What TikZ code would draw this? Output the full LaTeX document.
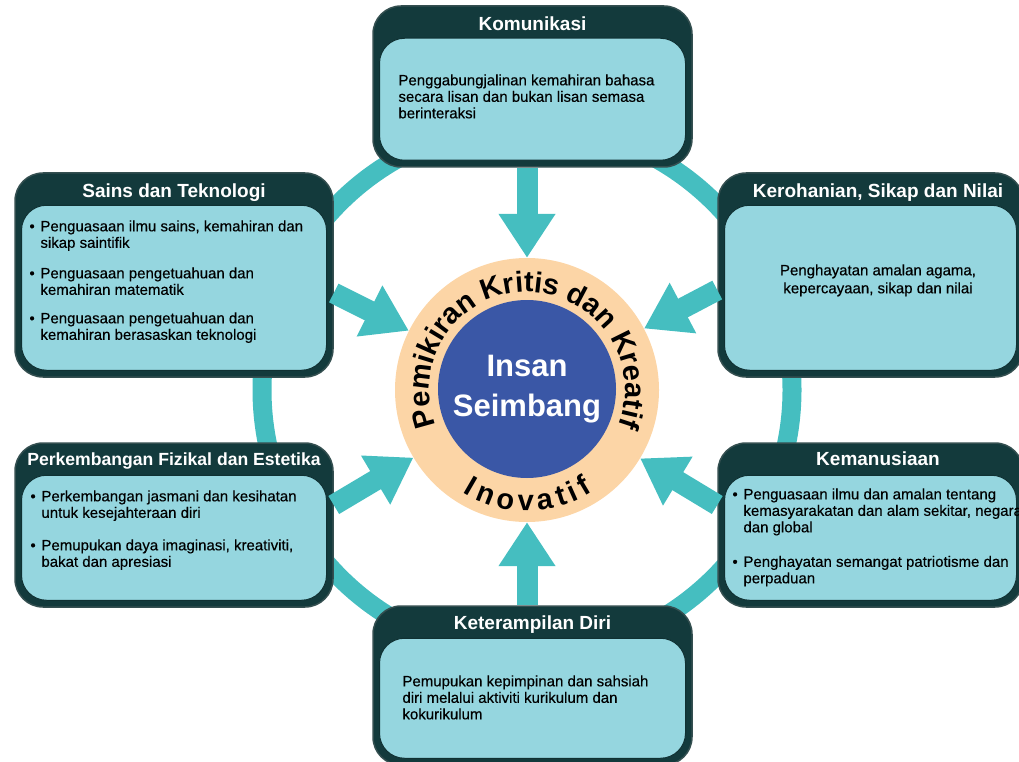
\documentclass[tikz,border=0pt]{standalone}
\usepackage{fontspec}
\setmainfont{Liberation Sans}
\usetikzlibrary{arrows.meta,decorations.text}

\definecolor{gelap}{HTML}{133A3C}
\definecolor{muda}{HTML}{95D6DF}
\definecolor{tosca}{HTML}{45BEC0}
\definecolor{persik}{HTML}{FCD5A6}
\definecolor{biru}{HTML}{3A57A6}

\newcommand{\butir}{\makebox[11pt][l]{\textbullet}}
\newcommand{\lanjut}{\hspace*{11pt}}
\newcommand{\lengkung}{\bfseries\fontsize{29}{29}\selectfont}

\tikzset{
	kotak/.style={rectangle, rounded corners=28pt, fill=gelap, draw=gelap!70!gray, line width=1.5pt, inner sep=0pt},
	isi/.style={rectangle, rounded corners=25pt, fill=muda, draw=gelap!85!black, line width=1pt, inner sep=0pt, anchor=south},
	judul/.style={anchor=base, text=white, font=\bfseries\fontsize{19}{19}\selectfont, inner sep=0pt},
	teks/.style={anchor=north west, align=left, inner sep=0pt, font=\fontsize{15}{16.5}\selectfont\addfontfeature{FakeBold=0.4}},
	panah/.style={draw=tosca, line width=21pt, -{Triangle[width=54pt,length=44pt]}},
	lingkar/.style={circle, fill=persik, minimum size=264pt, inner sep=0pt},
	pusat/.style={circle, fill=biru, minimum size=178pt, inner sep=0pt, text=white, align=center, font=\bfseries\fontsize{31}{40}\selectfont}
}

\begin{document}
\begin{tikzpicture}[x=1pt,y=-1pt]
	\useasboundingbox (0,0) rectangle (1019,762);
	\clip (0,0) rectangle (1019,762);

	% cincin
	\draw [tosca, line width=19pt] (527,390) circle [radius=265pt];

	% pusat
	\node [lingkar] (Lingkar) at (527,390) {};
	\node [pusat] (Insan) at (527,389) {Insan\\Seimbang};
	\begin{scope}[shift={(527,390)},y=1pt]
		\path [decorate, decoration={text along path, text align=center, text format delimiters={|}{|},
			text={|\lengkung|Pemikiran Kritis dan Kreatif}}] (203:98) arc [start angle=203, end angle=-23, radius=98];
		\path [decorate, decoration={text along path, text align=fit to path, text format delimiters={|}{|},
			text={|\lengkung|Inovatif}}] (238:121) arc [start angle=238, end angle=303, radius=121];
	\end{scope}

	% kotak
	\node [kotak, minimum width=319pt, minimum height=161pt] (Komunikasi) at (532.5,86.5) {};
	\node [isi, minimum width=306pt, minimum height=122pt] at ([yshift=7pt]Komunikasi.south) {};
	\node [judul] at ([yshift=-25pt]Komunikasi.north) {Komunikasi};
	\node [teks] at ([xshift=26pt,yshift=-69pt]Komunikasi.north west) {Penggabungjalinan kemahiran bahasa\\secara lisan dan bukan lisan semasa\\berinteraksi};

	\node [kotak, minimum width=318pt, minimum height=204pt] (Sains) at (174,275) {};
	\node [isi, minimum width=305pt, minimum height=165pt] at ([yshift=7pt]Sains.south) {};
	\node [judul] at ([yshift=-25pt]Sains.north) {Sains dan Teknologi};
	\node [teks] at ([xshift=15pt,yshift=-48pt]Sains.north west) {\butir Penguasaan ilmu sains, kemahiran dan\\\lanjut sikap saintifik\\[14pt]\butir Penguasaan pengetuahuan dan\\\lanjut kemahiran matematik\\[12pt]\butir Penguasaan pengetuahuan dan\\\lanjut kemahiran berasaskan teknologi};

	\node [kotak, minimum width=305pt, minimum height=204pt] (Rohani) at (870.5,275) {};
	\node [isi, minimum width=292pt, minimum height=165pt] at ([yshift=7pt]Rohani.south) {};
	\node [judul] at ([xshift=7.5pt,yshift=-25pt]Rohani.north) {Kerohanian, Sikap dan Nilai};
	\node [teks, anchor=north, align=center, font=\fontsize{15}{18}\selectfont\addfontfeature{FakeBold=0.4}] at ([xshift=7.5pt,yshift=-92pt]Rohani.north) {Penghayatan amalan agama,\\kepercayaan, sikap dan nilai};

	\node [kotak, minimum width=318pt, minimum height=164pt] (Fizikal) at (174,525) {};
	\node [isi, minimum width=305pt, minimum height=125pt] at ([yshift=7pt]Fizikal.south) {};
	\node [judul, font=\bfseries\fontsize{17.6}{17.6}\selectfont] at ([yshift=-23pt]Fizikal.north) {Perkembangan Fizikal dan Estetika};
	\node [teks] at ([xshift=16pt,yshift=-48pt]Fizikal.north west) {\butir Perkembangan jasmani dan kesihatan\\\lanjut untuk kesejahteraan diri\\[16pt]\butir Pemupukan daya imaginasi, kreativiti,\\\lanjut bakat dan apresiasi};

	\node [kotak, minimum width=305pt, minimum height=164pt] (Manusia) at (870.5,525) {};
	\node [isi, minimum width=292pt, minimum height=125pt] at ([yshift=7pt]Manusia.south) {};
	\node [judul] at ([xshift=7.5pt,yshift=-23pt]Manusia.north) {Kemanusiaan};
	\node [teks] at ([xshift=15pt,yshift=-46pt]Manusia.north west) {\butir Penguasaan ilmu dan amalan tentang\\\lanjut kemasyarakatan dan alam sekitar, negara\\\lanjut dan global\\[18pt]\butir Penghayatan semangat patriotisme dan\\\lanjut perpaduan};

	\node [kotak, minimum width=319pt, minimum height=159pt] (Diri) at (532.5,685.5) {};
	\node [isi, minimum width=306pt, minimum height=120pt] at ([yshift=7pt]Diri.south) {};
	\node [judul] at ([yshift=-24pt]Diri.north) {Keterampilan Diri};
	\node [teks] at ([xshift=30pt,yshift=-70pt]Diri.north west) {Pemupukan kepimpinan dan sahsiah\\diri melalui aktiviti kurikulum dan\\kokurikulum};

	% panah
	\draw [panah] ([xshift=-5.5pt]Komunikasi.south) -- (Lingkar);
	\draw [panah] ([xshift=-5.5pt]Diri.north) -- (Lingkar);
	\draw [panah] ([yshift=-18pt]Sains.east) -- (Lingkar);
	\draw [panah] ([yshift=-15pt]Rohani.west) -- (Lingkar);
	\draw [panah] ([yshift=20pt]Fizikal.east) -- (Lingkar);
	\draw [panah] ([yshift=20pt]Manusia.west) -- (Lingkar);
\end{tikzpicture}
\end{document}
